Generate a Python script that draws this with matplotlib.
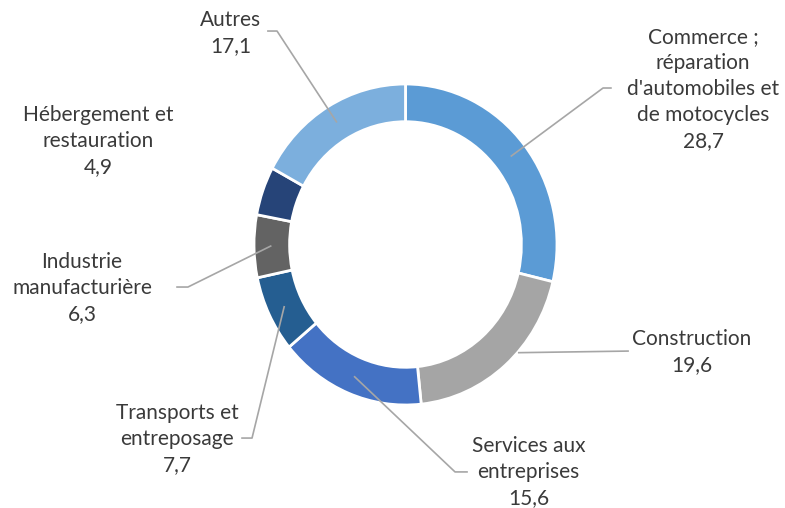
import matplotlib
matplotlib.use("Agg")
import matplotlib.pyplot as plt
import numpy as np

# data (clockwise from 12 o'clock)
categories = ["Commerce ;\nréparation\nd'automobiles et\nde motocycles",
              "Construction",
              "Services aux\nentreprises",
              "Transports et\nentreposage",
              "Industrie\nmanufacturière",
              "Hébergement et\nrestauration",
              "Autres"]
values = [28.7, 19.6, 15.6, 7.7, 6.3, 4.9, 17.1]
colors = ["#5B9BD5", "#A5A5A5", "#4472C4", "#255E91", "#636363", "#264478", "#7CAFDD"]

# label layout, in pie axes units (x, y of text centre; elbow end of leader or None)
label_pos = [(1.964, 0.969), (1.891, -0.670), (0.812, -1.418), (-1.508, -1.212),
             (-2.135, -0.271), (-2.030, 0.645), (-1.152, 1.318)]
leader_start = [(1.356, 0.975), (1.469, -0.664), (0.406, -1.417), (-1.079, -1.206),
                (-1.508, -0.265), None, (-0.908, 1.330)]
leader_elbow = [(1.304, 0.975), None, (0.327, -1.417), (-1.013, -1.206),
                (-1.436, -0.265), None, (-0.848, 1.330)]
anchor_r = [0.89, None, 0.89, 0.89, 0.89, 0.89, 0.89]  # None: stop at ring edge

plt.rcParams['font.family'] = ['Lato', 'DejaVu Sans']
W, H = 785, 508
fig = plt.figure(figsize=(W / 100, H / 100), dpi=100)
# ring is slightly taller than wide in the reference
ax = fig.add_axes([254 / W, (H - 405) / H, 303 / W, 321 / H])

wedges, _ = ax.pie(values, colors=colors, startangle=90, counterclock=False, radius=1,
                   wedgeprops=dict(width=0.235, edgecolor="white", linewidth=2))
ax.set_aspect("auto")
ax.set_xlim(-1, 1)
ax.set_ylim(-1, 1)
ax.axis("off")

line_kw = dict(color="#A6A6A6", lw=1.2, clip_on=False, zorder=5)
for i, w in enumerate(wedges):
    if leader_start[i] is not None:
        if anchor_r[i] is None:
            y0 = leader_start[i][1]
            ax_pt = (np.sqrt(1 - y0 ** 2), y0 - 0.01)
        else:
            mid = np.deg2rad((w.theta1 + w.theta2) / 2)
            ax_pt = (anchor_r[i] * np.cos(mid), anchor_r[i] * np.sin(mid))
        pts = [leader_start[i]]
        if leader_elbow[i] is not None:
            pts.append(leader_elbow[i])
        pts.append(ax_pt)
        xs, ys = zip(*pts)
        ax.plot(xs, ys, **line_kw)
    txt = categories[i] + "\n" + f"{values[i]:.1f}".replace(".", ",")
    ax.text(label_pos[i][0], label_pos[i][1], txt, ha="center", va="center",
            fontsize=15, color="#3A3A3A", linespacing=1.37, clip_on=False)

fig.savefig("out.png", dpi=100)
